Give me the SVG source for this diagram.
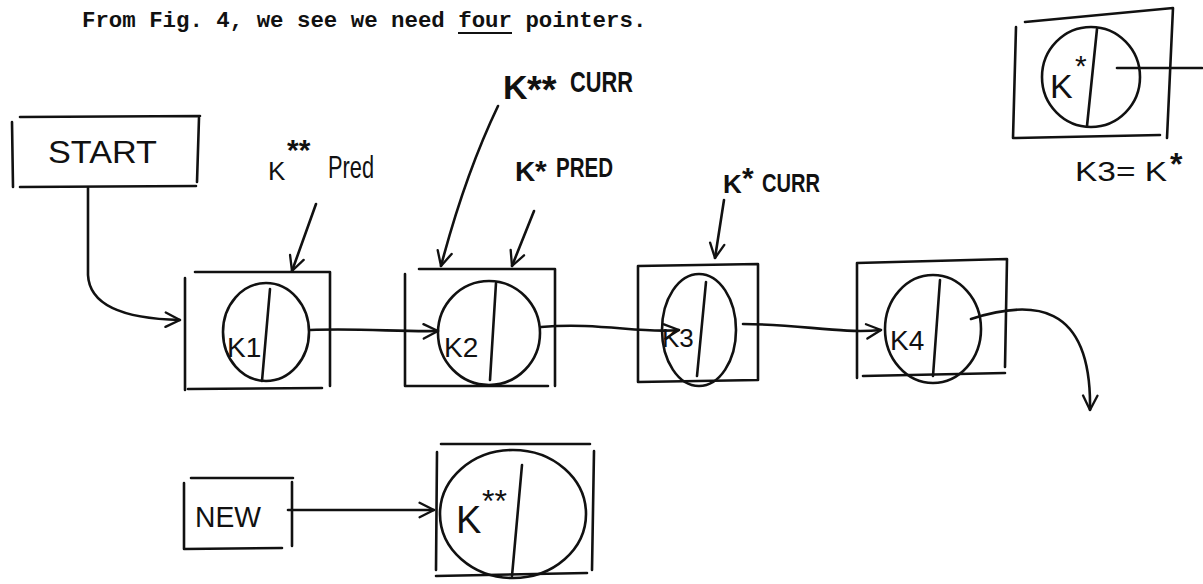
<svg xmlns="http://www.w3.org/2000/svg" width="1203" height="584" viewBox="0 0 1203 584">
<style>
.s{fill:none;stroke:#111;stroke-width:2.6;stroke-linecap:round;stroke-linejoin:round}
.t{font-family:"Liberation Sans",Arial,sans-serif;fill:#111}
.b{font-weight:bold}
.m{font-family:"Liberation Mono","Courier New",monospace;fill:#111;font-size:22.4px;font-weight:bold}
</style>
<defs>
<marker id="ah" viewBox="0 0 20 20" refX="19" refY="10" markerWidth="18" markerHeight="18" markerUnits="userSpaceOnUse" orient="auto">
<path d="M3,2 L19,10 L3,18" fill="none" stroke="#111" stroke-width="2.6" stroke-linecap="round" stroke-linejoin="round"/>
</marker>
</defs>
<rect width="1203" height="584" fill="#fff"/>
<g id="title">
<text class="m" x="82" y="27">From Fig. 4, we see we need four pointers.</text>
<line x1="458" y1="33" x2="512" y2="33" stroke="#111" stroke-width="2"/>
</g>
<g id="start">
<path class="s" d="M20,117 L200,116 M12,122 L13,187 M20,187 L196,186 M199,118 L197,182"/>
<text class="t" x="48" y="163" font-size="32" textLength="109" lengthAdjust="spacingAndGlyphs">START</text>
</g>
<g id="node1">
<path class="s" d="M195,272 L330,272 L330,386 M185,278 L185,390 M188,389 L322,388"/>
<ellipse class="s" cx="266" cy="332" rx="43" ry="49"/>
<path class="s" d="M270,289 L262,381"/>
<text class="t" x="227" y="357" font-size="28">K1</text>
</g>
<g id="node2">
<path class="s" d="M419,269 L555,269 L555,386 M405,274 L405,386 M405,386 L548,386"/>
<ellipse class="s" cx="489" cy="333" rx="51" ry="52"/>
<path class="s" d="M496,283 L490,380"/>
<text class="t" x="444" y="357" font-size="28">K2</text>
</g>
<g id="node3">
<path class="s" d="M638,266 L758,264 L758,380 M638,266 L638,382 L758,380"/>
<ellipse class="s" cx="699" cy="330" rx="37" ry="56"/>
<path class="s" d="M706,282 L697,376"/>
<text class="t" x="662" y="347" font-size="26">K3</text>
</g>
<g id="node4">
<path class="s" d="M857,263 L1007,259 L1005,367 M857,263 L857,378 M863,376 L1005,373"/>
<ellipse class="s" cx="933" cy="329" rx="48" ry="54"/>
<path class="s" d="M940,280 L933,376"/>
<text class="t" x="890" y="350" font-size="28">K4</text>
</g>
<g id="kstar">
<path class="s" d="M1025,22 L1173,8 L1167,138 M1016,27 L1013,138 L1160,135"/>
<ellipse class="s" cx="1091" cy="77" rx="49" ry="50"/>
<path class="s" d="M1097,29 L1087,126"/>
<path class="s" d="M1117,68 L1202,68"/>
<text class="t" x="1050" y="98" font-size="34">K</text>
<text class="t" x="1075" y="76" font-size="30">*</text>
<text class="t" x="1075" y="181" font-size="28" textLength="92" lengthAdjust="spacingAndGlyphs">K3= K</text>
<text class="t b" x="1170" y="175" font-size="32">*</text>
</g>
<g id="new">
<path class="s" d="M191,478 L293,478 M184,483 L184,549 L282,548 M292,482 L292,546"/>
<text class="t" x="195" y="527" font-size="30" textLength="66" lengthAdjust="spacingAndGlyphs">NEW</text>
</g>
<g id="newnode">
<path class="s" d="M441,444 L590,444 M437,452 L436,570 M436,576 L587,573 M594,451 L592,570"/>
<ellipse class="s" cx="513" cy="514" rx="73" ry="64"/>
<path class="s" d="M522,465 L512,576"/>
<text class="t" x="456" y="533" font-size="38">K</text>
<text class="t" x="482" y="512" font-size="32">**</text>
</g>
<g id="labels">
<text class="t" x="268" y="180" font-size="26">K</text>
<text class="t b" x="287" y="160" font-size="30">**</text>
<text class="t" x="328" y="178" font-size="32" textLength="46" lengthAdjust="spacingAndGlyphs">Pred</text>
<text class="t b" x="503" y="99" font-size="34">K</text>
<text class="t b" x="527" y="103" font-size="38">**</text>
<text class="t b" x="570" y="92" font-size="30" textLength="63" lengthAdjust="spacingAndGlyphs">CURR</text>
<text class="t b" x="515" y="181" font-size="28">K</text>
<text class="t b" x="535" y="181" font-size="30">*</text>
<text class="t b" x="556" y="177" font-size="27" textLength="57" lengthAdjust="spacingAndGlyphs">PRED</text>
<text class="t b" x="723" y="193" font-size="26">K</text>
<text class="t b" x="742" y="188" font-size="30">*</text>
<text class="t b" x="762" y="192" font-size="26" textLength="58" lengthAdjust="spacingAndGlyphs">CURR</text>
</g>
<g id="connectors">
<path class="s" d="M88,188 L88,275 Q90,318 180,320" marker-end="url(#ah)"/>
<path class="s" d="M316,204 L292,271" marker-end="url(#ah)"/>
<path class="s" d="M498,106 Q465,175 441,266" marker-end="url(#ah)"/>
<path class="s" d="M534,211 L512,266" marker-end="url(#ah)"/>
<path class="s" d="M724,200 L715,258" marker-end="url(#ah)"/>
<path class="s" d="M310,330 C360,328 400,332 438,331" marker-end="url(#ah)"/>
<path class="s" d="M541,327 C600,322 640,334 679,330" marker-end="url(#ah)"/>
<path class="s" d="M743,324 C800,324 840,334 881,330" marker-end="url(#ah)"/>
<path class="s" d="M971,319 C1030,300 1092,300 1090,410" marker-end="url(#ah)"/>
<path class="s" d="M288,510 L434,510" marker-end="url(#ah)"/>
</g>
</svg>
